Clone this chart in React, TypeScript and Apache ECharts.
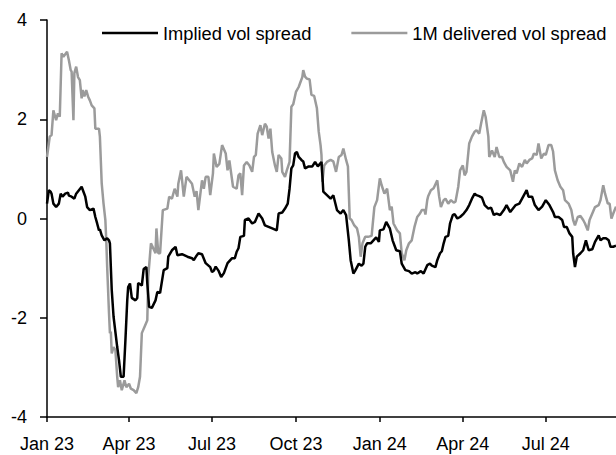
import React, { useEffect, useRef } from "react";
import * as echarts from "echarts";

const seriesNames = ["Implied vol spread", "1M delivered vol spread"];
const tickDates = ["2023-01-01", "2023-04-01", "2023-07-01", "2023-10-01", "2024-01-01", "2024-04-01", "2024-07-01"];
const tickLabels = ["Jan 23", "Apr 23", "Jul 23", "Oct 23", "Jan 24", "Apr 24", "Jul 24"];
const xRange = ["2023-01-01", "2024-09-16"];
const yTicks = [-4, -2, 0, 2, 4];

const impliedSpread: [string, number][] = [
['2023-01-01',0.30],['2023-01-03',0.57],['2023-01-05',0.54],['2023-01-06',0.50],['2023-01-08',0.30],['2023-01-11',0.23],['2023-01-14',0.30],['2023-01-16',0.50],['2023-01-18',0.44],['2023-01-21',0.50],['2023-01-24',0.52],['2023-01-25',0.46],['2023-01-28',0.44],['2023-01-31',0.40],['2023-02-02',0.50],['2023-02-05',0.57],['2023-02-08',0.64],['2023-02-10',0.54],['2023-02-12',0.44],['2023-02-14',0.23],['2023-02-17',0.17],['2023-02-21',0.20],['2023-02-23',0.03],['2023-02-25',-0.10],['2023-02-27',-0.24],['2023-02-28',-0.22],['2023-03-02',-0.34],['2023-03-05',-0.44],['2023-03-08',-0.40],['2023-03-10',-0.44],['2023-03-11',-0.50],['2023-03-13',-1.44],['2023-03-15',-1.98],['2023-03-19',-2.59],['2023-03-21',-2.86],['2023-03-23',-3.19],['2023-03-26',-3.19],['2023-03-28',-2.45],['2023-03-30',-1.65],['2023-03-31',-1.38],['2023-04-02',-1.31],['2023-04-04',-1.60],['2023-04-08',-1.65],['2023-04-10',-1.60],['2023-04-11',-1.30],['2023-04-15',-1.35],['2023-04-17',-1.02],['2023-04-20',-0.98],['2023-04-21',-1.31],['2023-04-23',-1.78],['2023-04-26',-1.80],['2023-04-30',-1.65],['2023-05-02',-1.48],['2023-05-05',-1.50],['2023-05-09',-1.04],['2023-05-13',-1.00],['2023-05-14',-0.77],['2023-05-18',-0.64],['2023-05-22',-0.57],['2023-05-24',-0.74],['2023-05-29',-0.72],['2023-06-04',-0.77],['2023-06-09',-0.80],['2023-06-11',-0.84],['2023-06-14',-0.75],['2023-06-16',-0.70],['2023-06-20',-0.72],['2023-06-24',-0.90],['2023-06-29',-0.98],['2023-07-01',-1.08],['2023-07-03',-1.05],['2023-07-05',-0.97],['2023-07-08',-1.05],['2023-07-11',-1.18],['2023-07-14',-1.10],['2023-07-18',-0.90],['2023-07-23',-0.80],['2023-07-26',-0.80],['2023-07-28',-0.67],['2023-07-30',-0.60],['2023-08-01',-0.37],['2023-08-05',-0.35],['2023-08-06',-0.03],['2023-08-10',0.00],['2023-08-14',-0.10],['2023-08-17',-0.07],['2023-08-21',0.10],['2023-08-25',0.00],['2023-08-28',-0.14],['2023-09-01',-0.17],['2023-09-05',-0.20],['2023-09-10',-0.24],['2023-09-12',0.10],['2023-09-16',0.12],['2023-09-19',0.20],['2023-09-22',0.30],['2023-09-24',0.60],['2023-09-26',1.01],['2023-09-28',1.07],['2023-09-30',1.31],['2023-10-02',1.34],['2023-10-04',1.24],['2023-10-07',1.18],['2023-10-09',1.15],['2023-10-11',1.01],['2023-10-15',1.05],['2023-10-19',1.05],['2023-10-22',1.14],['2023-10-25',1.05],['2023-10-29',1.14],['2023-10-30',0.87],['2023-10-31',0.54],['2023-11-04',0.47],['2023-11-08',0.40],['2023-11-11',0.47],['2023-11-15',0.17],['2023-11-19',0.10],['2023-11-22',0.17],['2023-11-25',0.07],['2023-11-28',-0.44],['2023-11-30',-0.84],['2023-12-03',-1.11],['2023-12-05',-1.05],['2023-12-09',-0.91],['2023-12-12',-0.95],['2023-12-14',-0.91],['2023-12-16',-0.57],['2023-12-18',-0.50],['2023-12-22',-0.50],['2023-12-25',-0.44],['2023-12-28',-0.38],['2023-12-31',-0.47],['2024-01-01',-0.24],['2024-01-05',-0.22],['2024-01-08',-0.07],['2024-01-11',-0.17],['2024-01-12',-0.20],['2024-01-15',-0.44],['2024-01-19',-0.64],['2024-01-23',-0.66],['2024-01-25',-0.91],['2024-01-29',-1.04],['2024-02-02',-1.06],['2024-02-05',-1.11],['2024-02-09',-1.08],['2024-02-11',-1.11],['2024-02-15',-1.06],['2024-02-18',-1.11],['2024-02-22',-0.94],['2024-02-25',-0.91],['2024-02-27',-0.95],['2024-03-02',-0.98],['2024-03-04',-0.84],['2024-03-07',-0.70],['2024-03-09',-0.66],['2024-03-11',-0.50],['2024-03-13',-0.37],['2024-03-16',-0.35],['2024-03-18',-0.10],['2024-03-21',0.07],['2024-03-23',0.09],['2024-03-26',0.00],['2024-03-29',0.03],['2024-04-02',0.10],['2024-04-05',0.17],['2024-04-08',0.27],['2024-04-11',0.40],['2024-04-14',0.50],['2024-04-16',0.47],['2024-04-19',0.45],['2024-04-22',0.42],['2024-04-25',0.27],['2024-04-29',0.20],['2024-05-02',0.22],['2024-05-05',0.07],['2024-05-08',0.10],['2024-05-12',0.07],['2024-05-16',0.17],['2024-05-19',0.27],['2024-05-23',0.13],['2024-05-26',0.20],['2024-05-29',0.27],['2024-06-02',0.30],['2024-06-05',0.40],['2024-06-10',0.57],['2024-06-12',0.44],['2024-06-16',0.44],['2024-06-19',0.27],['2024-06-23',0.17],['2024-06-27',0.24],['2024-07-01',0.37],['2024-07-05',0.27],['2024-07-09',0.13],['2024-07-11',0.03],['2024-07-15',0.03],['2024-07-19',-0.03],['2024-07-21',-0.17],['2024-07-24',-0.17],['2024-07-27',-0.30],['2024-07-30',-0.37],['2024-07-31',-0.70],['2024-08-02',-0.98],['2024-08-04',-0.77],['2024-08-08',-0.70],['2024-08-11',-0.64],['2024-08-14',-0.44],['2024-08-17',-0.64],['2024-08-21',-0.62],['2024-08-24',-0.47],['2024-08-28',-0.34],['2024-08-30',-0.44],['2024-09-02',-0.40],['2024-09-05',-0.40],['2024-09-08',-0.44],['2024-09-10',-0.57],['2024-09-13',-0.57],['2024-09-16',-0.55]
];

const deliveredSpread: [string, number][] = [
['2023-01-01',1.24],['2023-01-04',1.65],['2023-01-06',1.68],['2023-01-08',2.18],['2023-01-11',1.98],['2023-01-13',2.12],['2023-01-15',2.05],['2023-01-17',3.33],['2023-01-19',3.26],['2023-01-23',3.36],['2023-01-25',3.19],['2023-01-27',2.99],['2023-01-28',2.96],['2023-01-30',1.98],['2023-01-31',2.93],['2023-02-02',3.06],['2023-02-04',2.85],['2023-02-06',2.79],['2023-02-08',2.42],['2023-02-09',2.59],['2023-02-11',2.46],['2023-02-13',2.59],['2023-02-15',2.46],['2023-02-17',2.38],['2023-02-19',2.28],['2023-02-22',2.22],['2023-02-23',1.81],['2023-02-27',1.81],['2023-02-28',1.65],['2023-03-02',0.71],['2023-03-04',0.30],['2023-03-06',-0.03],['2023-03-07',-0.44],['2023-03-08',-0.98],['2023-03-10',-1.91],['2023-03-11',-2.31],['2023-03-12',-2.28],['2023-03-13',-2.72],['2023-03-15',-2.59],['2023-03-17',-2.65],['2023-03-19',-3.19],['2023-03-20',-3.40],['2023-03-22',-3.26],['2023-03-24',-3.46],['2023-03-27',-3.26],['2023-03-29',-3.40],['2023-04-01',-3.33],['2023-04-03',-3.43],['2023-04-06',-3.46],['2023-04-09',-3.52],['2023-04-11',-3.40],['2023-04-13',-3.19],['2023-04-15',-2.31],['2023-04-18',-2.18],['2023-04-21',-2.05],['2023-04-22',-1.18],['2023-04-25',-0.50],['2023-04-30',-0.70],['2023-05-01',-0.20],['2023-05-03',-0.70],['2023-05-05',-0.70],['2023-05-08',0.17],['2023-05-13',0.20],['2023-05-15',0.44],['2023-05-18',0.40],['2023-05-21',0.60],['2023-05-24',0.44],['2023-05-25',0.70],['2023-05-28',0.97],['2023-05-31',0.44],['2023-06-03',0.84],['2023-06-06',0.77],['2023-06-09',0.70],['2023-06-12',0.44],['2023-06-14',0.55],['2023-06-16',0.17],['2023-06-20',0.77],['2023-06-22',0.60],['2023-06-24',0.84],['2023-06-27',0.84],['2023-06-29',0.47],['2023-07-02',0.91],['2023-07-03',1.31],['2023-07-06',1.04],['2023-07-09',1.10],['2023-07-12',1.48],['2023-07-16',1.31],['2023-07-18',0.97],['2023-07-20',1.17],['2023-07-24',0.64],['2023-07-28',0.60],['2023-07-30',0.87],['2023-08-01',0.91],['2023-08-03',0.47],['2023-08-05',1.07],['2023-08-08',1.14],['2023-08-11',1.07],['2023-08-14',0.94],['2023-08-16',1.24],['2023-08-18',1.28],['2023-08-20',1.71],['2023-08-23',1.88],['2023-08-25',1.68],['2023-08-28',1.91],['2023-08-30',1.85],['2023-09-01',1.61],['2023-09-03',1.81],['2023-09-05',1.34],['2023-09-08',1.07],['2023-09-10',0.94],['2023-09-12',1.28],['2023-09-15',1.21],['2023-09-16',0.94],['2023-09-19',0.84],['2023-09-21',0.97],['2023-09-24',1.14],['2023-09-26',2.25],['2023-09-28',2.30],['2023-10-01',2.55],['2023-10-04',2.65],['2023-10-06',2.75],['2023-10-08',2.85],['2023-10-09',2.99],['2023-10-11',2.86],['2023-10-13',2.82],['2023-10-16',2.80],['2023-10-18',2.49],['2023-10-21',2.47],['2023-10-24',2.22],['2023-10-26',1.75],['2023-10-28',1.48],['2023-10-29',1.28],['2023-10-30',0.74],['2023-11-01',1.07],['2023-11-04',1.14],['2023-11-08',1.18],['2023-11-11',1.15],['2023-11-14',0.94],['2023-11-17',1.24],['2023-11-20',1.28],['2023-11-22',1.41],['2023-11-25',1.18],['2023-11-27',1.05],['2023-11-29',0.00],['2023-12-01',-0.03],['2023-12-04',-0.14],['2023-12-07',-0.20],['2023-12-09',-0.37],['2023-12-11',-0.77],['2023-12-13',-0.50],['2023-12-16',-0.37],['2023-12-19',-0.37],['2023-12-23',-0.35],['2023-12-26',0.23],['2023-12-29',0.37],['2024-01-01',0.81],['2024-01-03',0.67],['2024-01-06',0.50],['2024-01-09',0.60],['2024-01-12',0.17],['2024-01-14',0.24],['2024-01-16',-0.10],['2024-01-20',-0.24],['2024-01-23',-0.30],['2024-01-25',-0.70],['2024-01-28',-0.84],['2024-01-30',-0.64],['2024-02-02',-0.50],['2024-02-05',-0.44],['2024-02-08',-0.17],['2024-02-11',0.03],['2024-02-14',0.10],['2024-02-16',0.17],['2024-02-19',0.17],['2024-02-20',0.08],['2024-02-22',0.37],['2024-02-23',0.45],['2024-02-26',0.57],['2024-02-29',0.61],['2024-03-04',0.77],['2024-03-06',0.45],['2024-03-08',0.23],['2024-03-11',0.37],['2024-03-13',0.40],['2024-03-16',0.30],['2024-03-19',0.37],['2024-03-22',0.32],['2024-03-24',0.34],['2024-03-27',0.64],['2024-03-29',0.97],['2024-04-01',1.07],['2024-04-03',0.87],['2024-04-05',0.94],['2024-04-08',1.51],['2024-04-11',1.65],['2024-04-14',1.75],['2024-04-16',1.78],['2024-04-19',1.71],['2024-04-21',1.91],['2024-04-24',2.18],['2024-04-26',2.05],['2024-04-29',1.65],['2024-04-30',1.24],['2024-05-03',1.37],['2024-05-06',1.24],['2024-05-08',1.44],['2024-05-11',1.24],['2024-05-14',1.24],['2024-05-16',1.14],['2024-05-19',1.04],['2024-05-23',0.97],['2024-05-26',0.74],['2024-05-28',0.97],['2024-05-30',0.91],['2024-06-02',1.11],['2024-06-05',1.04],['2024-06-08',1.18],['2024-06-10',1.11],['2024-06-13',1.18],['2024-06-16',1.21],['2024-06-18',1.31],['2024-06-21',1.28],['2024-06-23',1.51],['2024-06-26',1.21],['2024-06-29',1.31],['2024-07-01',1.28],['2024-07-04',1.48],['2024-07-07',1.48],['2024-07-09',1.35],['2024-07-11',0.97],['2024-07-14',0.77],['2024-07-17',0.64],['2024-07-20',0.57],['2024-07-22',0.37],['2024-07-26',0.30],['2024-07-29',0.17],['2024-07-31',-0.03],['2024-08-02',-0.14],['2024-08-05',0.03],['2024-08-08',0.05],['2024-08-11',-0.03],['2024-08-13',-0.10],['2024-08-16',-0.24],['2024-08-18',-0.03],['2024-08-21',0.10],['2024-08-24',0.23],['2024-08-28',0.27],['2024-08-30',0.37],['2024-09-02',0.67],['2024-09-04',0.50],['2024-09-07',0.30],['2024-09-09',0.30],['2024-09-11',0.00],['2024-09-13',0.10],['2024-09-16',0.24]
];

const FONT = '"Liberation Sans", Arial, sans-serif';
const DAY = 86400000;

// days since the first axis date (UTC), so the value axis is a plain date scale
function toDay(s: string): number {
  const [y, m, d] = s.split("-").map(Number);
  const [y0, m0, d0] = xRange[0].split("-").map(Number);
  return Math.round((Date.UTC(y, m - 1, d) - Date.UTC(y0, m0 - 1, d0)) / DAY);
}

export default function App() {
  const ref = useRef<HTMLDivElement>(null);
  useEffect(() => {
    if (!ref.current) return;
    const chart = echarts.init(ref.current, undefined, { renderer: "svg" });
    const tickDays = tickDates.map(toDay);
    const labelFor = (v: number) => {
      const i = tickDays.indexOf(Math.round(v));
      return i >= 0 ? tickLabels[i] : "";
    };
    chart.setOption({
      animation: false,
      backgroundColor: "#ffffff",
      grid: { left: 47, right: 0, top: 20, bottom: 38, containLabel: false },
      legend: {
        data: seriesNames,
        left: 102,
        top: 23,
        icon: "rect",
        itemWidth: 56,
        itemHeight: 2.5,
        itemGap: 40,
        textStyle: { fontFamily: FONT, fontSize: 18.3, color: "#000", lineHeight: 20 },
        padding: 0,
      },
      xAxis: {
        type: "value",
        min: toDay(xRange[0]),
        max: toDay(xRange[1]),
        splitLine: { show: false },
        axisLine: { show: true, onZero: false, lineStyle: { color: "#000", width: 1.5 } },
        axisTick: { show: true, length: 5, lineStyle: { color: "#000", width: 1.5 }, customValues: tickDays },
        axisLabel: {
          customValues: tickDays,
          formatter: (v: number) => labelFor(v),
          fontFamily: FONT,
          fontSize: 18,
          color: "#000",
          margin: 18,
          showMinLabel: true,
          showMaxLabel: true,
        },
      },
      yAxis: {
        type: "value",
        min: yTicks[0],
        max: yTicks[yTicks.length - 1],
        interval: 2,
        splitLine: { show: false },
        axisLine: { show: true, lineStyle: { color: "#000", width: 1.5 } },
        axisTick: { show: true, length: 7, lineStyle: { color: "#000", width: 1.5 } },
        axisLabel: { fontFamily: FONT, fontSize: 18, color: "#000", margin: 20 },
      },
      series: [
        {
          name: seriesNames[1],
          type: "line",
          data: deliveredSpread.map(([d, v]) => [toDay(d), v]),
          showSymbol: false,
          symbol: "none",
          lineStyle: { color: "#9b9b9b", width: 2.5 },
          itemStyle: { color: "#9b9b9b" },
          z: 2,
        },
        {
          name: seriesNames[0],
          type: "line",
          data: impliedSpread.map(([d, v]) => [toDay(d), v]),
          showSymbol: false,
          symbol: "none",
          lineStyle: { color: "#000000", width: 2.5 },
          itemStyle: { color: "#000000" },
          z: 3,
        },
      ],
    });
    return () => chart.dispose();
  }, []);
  return <div ref={ref} style={{ position: "fixed", left: 0, top: 0, width: 616, height: 455 }} />;
}
